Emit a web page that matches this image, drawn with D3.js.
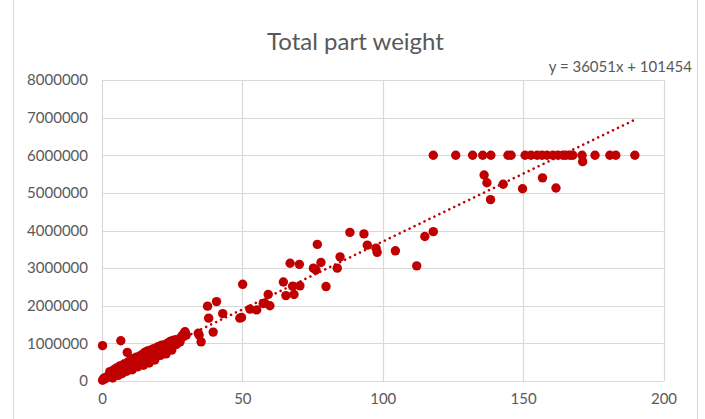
<!DOCTYPE html>
<html>
<head>
<meta charset="utf-8">
<script src="https://cdn.jsdelivr.net/npm/d3@7"></script>
<style>
  html, body { margin: 0; padding: 0; background: #fff; }
  svg { display: block; }
</style>
</head>
<body>
<script>
// ---- data ----
const parts = [
  0.2,0.5,0.8,1.2,1.5,2,2.5,3,3,3.5,4,4.5,5,5.5,6,6,6.5,7,7.5,8,8.5,9,9.5,10,10.5,11,11.5,12,12.5,13,13.5,14,14.5,15,15.5,16,16,16.5,17,17.5,18,18.5,19,19.5,20,20.5,21,22,22.5,23,23.5,24,24.5,25,26,26.5,27,27.5,28,28.5,29,29.5,30,
  2.8,4.2,5.2,6.3,7.8,9.2,10.2,11.2,12.2,13.2,14.2,15.2,16.2,17.2,18.2,19.2,20.2,21.2,22.2,23.2,24.2,25.2,26.2,
  3.8,5.8,7.2,8.8,10.8,12.8,14.8,16.8,18.8,20.8,22.8,24.8,
  0.2,6.7,9.0,
  29.6,29.0,27.8,
  34.6,35.3,34.3,39.6,38.0,43.0,37.6,40.8,49.1,49.7,50.1,52.7,55.1,57.4,59.8,58.0,59.2,
  70.5,68.4,65.5,67.9,64.6,79.8,83.8,76.2,75.3,70.3,67.0,78.0,84.8,98.0,97.6,94.5,76.7,93.3,88.3,
  104.5,112.1,115.0,118.0,
  136.1,137.1,142.9,138.4,149.8,156.9,161.7,171.2,
  118,126,132,135.6,138.5,144.6,145.7,150.7,152.8,155,156.7,158.5,160.6,162.4,164.2,165.2,166.7,167.7,171,175.6,180.9,183,189.8
];
const weights = [
  20000,50000,80000,60000,100000,120000,150000,140000,200000,180000,220000,200000,250000,300000,240000,320000,280000,350000,300000,380000,420000,350000,400000,450000,380000,480000,420000,500000,550000,450000,520000,580000,500000,620000,700000,550000,750000,650000,600000,720000,680000,800000,750000,880000,820000,780000,850000,900000,820000,880000,950000,1000000,920000,980000,1020000,970000,1080000,1050000,1150000,1200000,1250000,1300000,1220000,
  250000,300000,350000,400000,450000,500000,560000,600000,630000,650000,700000,760000,800000,820000,850000,880000,920000,950000,960000,1000000,1050000,1080000,1100000,
  80000,150000,200000,260000,300000,380000,420000,480000,560000,680000,720000,820000,
  940000,1070000,760000,
  1310000,1180000,1040000,
  1220000,1040000,1270000,1300000,1670000,1790000,1990000,2110000,1670000,1690000,2570000,1910000,1890000,2060000,2000000,2070000,2300000,
  2530000,2300000,2270000,2520000,2630000,2510000,3000000,2950000,3000000,3100000,3130000,3150000,3300000,3420000,3530000,3610000,3630000,3910000,3950000,
  3460000,3060000,3840000,3970000,
  5475000,5270000,5230000,4820000,5110000,5400000,5130000,5830000,
  6000000,6000000,6000000,6000000,6000000,6000000,6000000,6000000,6000000,6000000,6000000,6000000,6000000,6000000,6000000,6000000,6000000,6000000,6000000,6000000,6000000,6000000,6000000
];
const trendSlope = 36051;
const trendIntercept = 101454;
const xTicks = [0, 50, 100, 150, 200];
const yTicks = [0,1000000,2000000,3000000,4000000,5000000,6000000,7000000,8000000];
const chartTitle = "Total part weight";
const equationText = "y = 36051x + 101454";

// ---- drawing ----
const W = 705, H = 419;
const svg = d3.select("body").append("svg").attr("width", W).attr("height", H);
const font = "Lato, 'Open Sans', sans-serif";
const textCol = "#595959", gridCol = "#d9d9d9", red = "#c00000";

// outer chart border
svg.append("rect").attr("x", 13.5).attr("y", -2).attr("width", 684).attr("height", H + 4)
  .attr("fill", "none").attr("stroke", gridCol).attr("stroke-width", 1);

const x = d3.scaleLinear().domain([0, 200]).range([102, 663.5]);
const y = d3.scaleLinear().domain([0, 8000000]).range([381, 80]);

// gridlines
svg.append("g").selectAll("line").data(yTicks).join("line")
  .attr("x1", x(0)).attr("x2", x(200))
  .attr("y1", d => Math.round(y(d)) + 0.5).attr("y2", d => Math.round(y(d)) + 0.5)
  .attr("stroke", gridCol).attr("stroke-width", 1.2);
svg.append("g").selectAll("line").data(xTicks).join("line")
  .attr("y1", y(0)).attr("y2", y(8000000))
  .attr("x1", d => Math.round(x(d)) + 0.5).attr("x2", d => Math.round(x(d)) + 0.5)
  .attr("stroke", gridCol).attr("stroke-width", 1.2);

// axes (labels only)
const yAxis = d3.axisLeft(y).tickValues(yTicks).tickFormat(d3.format("d")).tickSize(0).tickPadding(14);
const gy = svg.append("g").attr("transform", `translate(${x(0)},0)`).call(yAxis);
gy.select(".domain").remove();
gy.selectAll("text").attr("font-family", font).attr("font-size", 15).attr("fill", textCol);

const xAxis = d3.axisBottom(x).tickValues(xTicks).tickFormat(d3.format("d")).tickSize(0).tickPadding(12);
const gx = svg.append("g").attr("transform", `translate(0,${y(0)})`).call(xAxis);
gx.select(".domain").remove();
gx.selectAll("text").attr("font-family", font).attr("font-size", 15).attr("fill", textCol);

// points
const pts = parts.map((p, i) => ({ p, w: weights[i] }));
svg.append("g").selectAll("circle").data(pts).join("circle")
  .attr("cx", d => x(d.p)).attr("cy", d => y(d.w)).attr("r", 4.7)
  .attr("fill", red);

// trendline
const xMax = d3.max(parts);
svg.append("line")
  .attr("x1", x(0)).attr("y1", y(trendIntercept))
  .attr("x2", x(xMax)).attr("y2", y(trendSlope * xMax + trendIntercept))
  .attr("stroke", red).attr("stroke-width", 2.6)
  .attr("stroke-linecap", "round").attr("stroke-dasharray", "0.01 5.5");

// title
svg.append("text").attr("x", 355.5).attr("y", 50).attr("text-anchor", "middle")
  .attr("font-family", font).attr("font-size", 24).attr("fill", textCol).text(chartTitle);

// equation
svg.append("text").attr("x", 692).attr("y", 72).attr("text-anchor", "end")
  .attr("font-family", font).attr("font-size", 15).attr("fill", textCol).text(equationText);
</script>
</body>
</html>
